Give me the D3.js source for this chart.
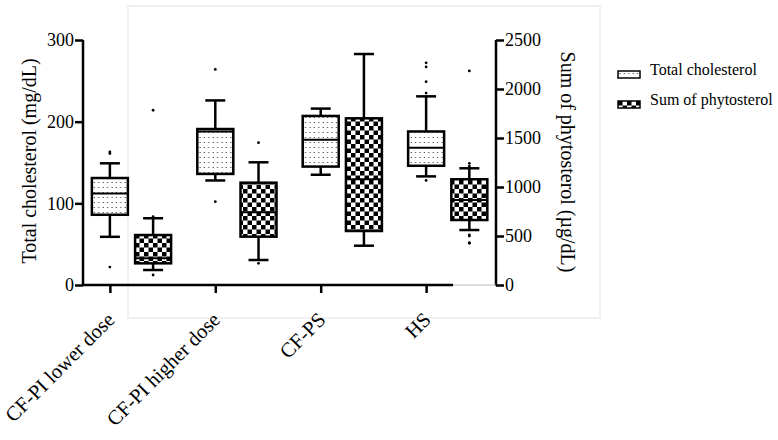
<!DOCTYPE html>
<html><head><meta charset="utf-8">
<script src="https://cdn.jsdelivr.net/npm/d3@7"></script>
<style>body{margin:0;background:#fff}svg{display:block}text{font-family:"Liberation Serif","Times New Roman",serif;fill:#000}</style>
</head><body><svg id="c" width="778" height="440"></svg>
<script>
const categories = ["CF-PI lower dose","CF-PI higher dose","CF-PS","HS"];
const seriesNames = ["Total cholesterol","Sum of phytosterol"];
// Total cholesterol (mg/dL): [whiskerLow, Q1, median, Q3, whiskerHigh]
const tcStats = [[59,86,112,131,149],[128,136,188,191,226],[135,145,178,207,216],[133,146,168,188,231]];
const tcOutliers = [[163,161,22],[264,102],[],[272,267,249,235,128]];
// Sum of phytosterol (µg/dL)
const psStats = [[153,221,272,510,681],[255,493,742,1044,1252],[401,551,1079,1701,2357],[561,663,867,1079,1191]];
const psOutliers = [[102,1783,697],[1452,221],[],[2184,1242,1214,510,500,426,432]];
const leftTicks = [0,100,200,300];
const rightTicks = [0,500,1000,1500,2000,2500];

const svg = d3.select("#c");
const defs = svg.append("defs");
const dp = defs.append("pattern").attr("id","dots").attr("patternUnits","userSpaceOnUse").attr("width",4.4).attr("height",5);
dp.append("rect").attr("width",4.4).attr("height",5).attr("fill","#fff");
dp.append("rect").attr("x",1.5).attr("y",2).attr("width",1).attr("height",1).attr("fill","#222");
const cp = defs.append("pattern").attr("id","checker").attr("patternUnits","userSpaceOnUse").attr("width",9).attr("height",9);
cp.append("rect").attr("width",9).attr("height",9).attr("fill","#fff");
cp.append("rect").attr("width",4.5).attr("height",4.5).attr("fill","#000");
cp.append("rect").attr("x",4.5).attr("y",4.5).attr("width",4.5).attr("height",4.5).attr("fill","#000");

// light panel
svg.append("rect").attr("x",128).attr("y",6).attr("width",472).attr("height",312).attr("fill","none").attr("stroke","#e2e2e2").attr("stroke-width",1);

const x = d3.scalePoint().domain(categories).range([83,453]).padding(0.255);
const step = x.step();
const yL = d3.scaleLinear().domain([0,300]).range([285,40]);
const yR = d3.scaleLinear().domain([0,2500]).range([285,40]);
const bw = 36, cap = 20, sw = 2.5;

function drawBox(cx, s, outs, y, fillId){
  const g = svg.append("g");
  g.append("line").attr("x1",cx).attr("x2",cx).attr("y1",y(s[3])).attr("y2",y(s[4])).attr("stroke","#000").attr("stroke-width",sw);
  g.append("line").attr("x1",cx).attr("x2",cx).attr("y1",y(s[1])).attr("y2",y(s[0])).attr("stroke","#000").attr("stroke-width",sw);
  [s[0],s[4]].forEach(v=>g.append("line").attr("x1",cx-cap/2).attr("x2",cx+cap/2).attr("y1",y(v)).attr("y2",y(v)).attr("stroke","#000").attr("stroke-width",sw));
  g.append("rect").attr("x",cx-bw/2).attr("y",y(s[3])).attr("width",bw).attr("height",y(s[1])-y(s[3])).attr("fill","url(#"+fillId+")").attr("stroke","#000").attr("stroke-width",sw);
  g.append("line").attr("x1",cx-bw/2).attr("x2",cx+bw/2).attr("y1",y(s[2])).attr("y2",y(s[2])).attr("stroke","#000").attr("stroke-width",2);
  g.selectAll("circle").data(outs).join("circle").attr("cx",cx).attr("cy",d=>y(d)).attr("r",1.4).attr("fill","#000");
}
categories.forEach((c,i)=>{
  drawBox(x(c), tcStats[i], tcOutliers[i], yL, "dots");
  drawBox(x(c)+step*0.41, psStats[i], psOutliers[i], yR, "checker");
});

// axes
const fs = "18px";
const gl = svg.append("g").attr("transform","translate(83,0)").call(d3.axisLeft(yL).tickValues(leftTicks).tickSize(8).tickPadding(1).tickSizeOuter(0).tickFormat(d3.format("d")));
const gr = svg.append("g").attr("transform","translate(496,0)").call(d3.axisRight(yR).tickValues(rightTicks).tickSize(8).tickPadding(1).tickSizeOuter(0).tickFormat(d3.format("d")));
const gx = svg.append("g").attr("transform","translate(0,285)").call(d3.axisBottom(x).tickSize(8).tickSizeOuter(0).tickFormat(""));
[gl,gr,gx].forEach(g=>{
  g.attr("font-size",null).attr("font-family",null);
  g.selectAll("path,line").attr("stroke","#000").attr("stroke-width",sw);
  g.selectAll("text").style("font-size",fs);
});
gx.select("path").attr("d","M83,0H453");
gl.select("path").attr("d","M0,40V286");
gr.select("path").attr("d","M0,40V286");
svg.append("line").attr("x1",453).attr("x2",496).attr("y1",285).attr("y2",285).attr("stroke","#bbb").attr("stroke-width",1);

// category labels
svg.append("g").selectAll("text").data(categories).join("text")
  .attr("transform",d=>`translate(${x(d)+6},${321}) rotate(-45)`)
  .attr("text-anchor","end").style("font-size","20.5px").text(d=>d);

// axis titles
svg.append("text").attr("transform","translate(36,161) rotate(-90)").attr("text-anchor","middle").style("font-size","20px").text("Total cholesterol (mg/dL)");
svg.append("text").attr("transform","translate(561,162) rotate(90)").attr("text-anchor","middle").style("font-size","20px").text("Sum of phytosterol (µg/dL)");

// legend
const lg = svg.append("g").selectAll("g").data(seriesNames).join("g").attr("transform",(d,i)=>`translate(618,${71+i*30})`);
lg.append("rect").attr("width",22).attr("height",7).attr("fill",(d,i)=>i?"url(#checker)":"url(#dots)").attr("stroke","#000").attr("stroke-width",1.5);
lg.append("text").attr("x",32).attr("y",4).style("font-size","16px").text(d=>d);
</script></body></html>
